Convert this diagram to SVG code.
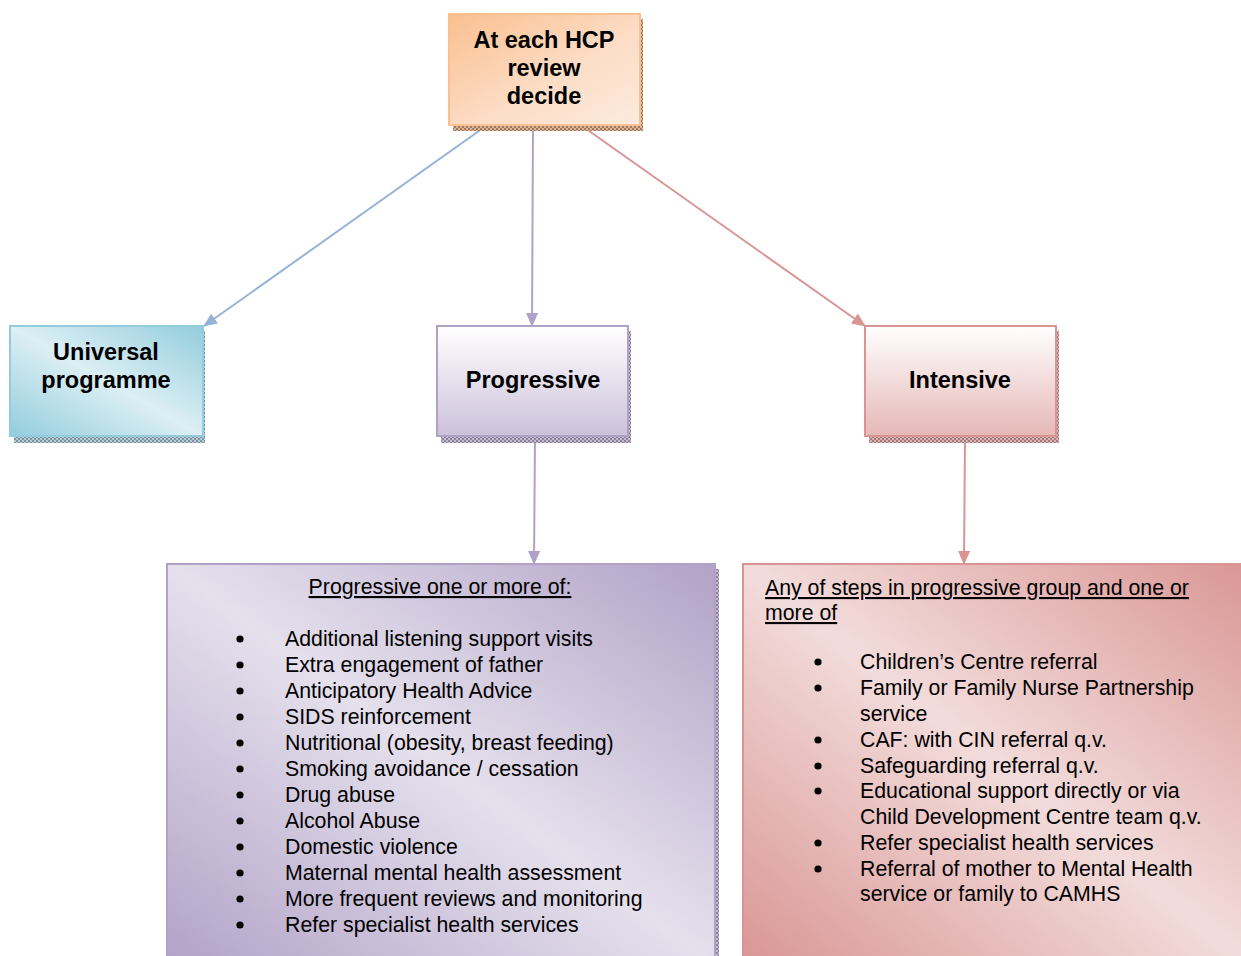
<svg xmlns="http://www.w3.org/2000/svg" width="1241" height="956" viewBox="0 0 1241 956">
  <style>
    .title { font-family: "Liberation Sans", Arial, sans-serif; font-weight: bold; font-size: 23.5px; fill: #000; text-anchor: middle; }
    .body { font-family: "Liberation Sans", Arial, sans-serif; font-size: 21.3px; fill: #000; }
    .head { text-decoration: underline; }
    .conn { fill: none; stroke-width: 2; }
  </style>
  <defs>
    <!-- diagonal gradients: dark along top-right / bottom-left corners, light along the main diagonal -->
    <linearGradient id="gOrange" x1="0" y1="0" x2="1" y2="1">
      <stop offset="0" stop-color="#fabf8f"/>
      <stop offset="0.55" stop-color="#fcdcc4"/>
      <stop offset="1" stop-color="#fdebdf"/>
    </linearGradient>
    <linearGradient id="gTeal" x1="0" y1="1" x2="1" y2="0">
      <stop offset="0" stop-color="#93cddd"/>
      <stop offset="0.5" stop-color="#dceff4"/>
      <stop offset="1" stop-color="#93cddd"/>
    </linearGradient>
    <linearGradient id="gPurpleV" x1="0" y1="0" x2="0" y2="1">
      <stop offset="0" stop-color="#ffffff"/>
      <stop offset="1" stop-color="#ccc1da"/>
    </linearGradient>
    <linearGradient id="gRedV" x1="0" y1="0" x2="0" y2="1">
      <stop offset="0" stop-color="#ffffff"/>
      <stop offset="1" stop-color="#e5b8b7"/>
    </linearGradient>
    <linearGradient id="gPurpleD" x1="0" y1="1" x2="1" y2="0">
      <stop offset="0" stop-color="#b2a2c7"/>
      <stop offset="0.5" stop-color="#e5e0ec"/>
      <stop offset="1" stop-color="#b2a2c7"/>
    </linearGradient>
    <linearGradient id="gRedD" x1="0" y1="1" x2="1" y2="0">
      <stop offset="0" stop-color="#d99694"/>
      <stop offset="0.5" stop-color="#f2dcdb"/>
      <stop offset="1" stop-color="#d99694"/>
    </linearGradient>
    <!-- hatched drop shadows -->
    <pattern id="hBrown" width="4" height="4" patternUnits="userSpaceOnUse">
      <rect width="4" height="4" fill="#d9b79c"/>
      <rect width="2" height="2" fill="#a3785a"/>
      <rect x="2" y="2" width="2" height="2" fill="#a3785a"/>
    </pattern>
    <pattern id="hBlue" width="4" height="4" patternUnits="userSpaceOnUse">
      <rect width="4" height="4" fill="#b9cad2"/>
      <rect width="2" height="2" fill="#7d97a3"/>
      <rect x="2" y="2" width="2" height="2" fill="#7d97a3"/>
    </pattern>
    <pattern id="hPurple" width="4" height="4" patternUnits="userSpaceOnUse">
      <rect width="4" height="4" fill="#c4bcd0"/>
      <rect width="2" height="2" fill="#8c8199"/>
      <rect x="2" y="2" width="2" height="2" fill="#8c8199"/>
    </pattern>
    <pattern id="hRed" width="4" height="4" patternUnits="userSpaceOnUse">
      <rect width="4" height="4" fill="#d7b5b4"/>
      <rect width="2" height="2" fill="#a67d7c"/>
      <rect x="2" y="2" width="2" height="2" fill="#a67d7c"/>
    </pattern>
    <marker id="aBlue" markerWidth="14" markerHeight="12" refX="13" refY="6" orient="auto" markerUnits="userSpaceOnUse">
      <path d="M0,0 L14,6 L0,12 Z" fill="#95b3d7"/>
    </marker>
    <marker id="aPurple" markerWidth="14" markerHeight="12" refX="13" refY="6" orient="auto" markerUnits="userSpaceOnUse">
      <path d="M0,0 L14,6 L0,12 Z" fill="#b2a1c7"/>
    </marker>
    <marker id="aRed" markerWidth="14" markerHeight="12" refX="13" refY="6" orient="auto" markerUnits="userSpaceOnUse">
      <path d="M0,0 L14,6 L0,12 Z" fill="#d99594"/>
    </marker>
  </defs>

  <rect width="1241" height="956" fill="#ffffff"/>

  <!-- connectors -->
  <g id="connectors">
    <line class="conn" x1="486" y1="126" x2="204" y2="326" stroke="#95b3d7" marker-end="url(#aBlue)"/>
    <line class="conn" x1="533" y1="126" x2="532" y2="326" stroke="#b2a1c7" marker-end="url(#aPurple)"/>
    <line class="conn" x1="582" y1="126" x2="865" y2="326" stroke="#d99594" marker-end="url(#aRed)"/>
    <line class="conn" x1="535" y1="437" x2="534" y2="564" stroke="#b2a1c7" marker-end="url(#aPurple)"/>
    <line class="conn" x1="965" y1="437" x2="964" y2="564" stroke="#d99594" marker-end="url(#aRed)"/>
  </g>

  <!-- decision node -->
  <g id="decide">
    <rect x="453" y="19" width="190" height="112" fill="url(#hBrown)"/>
    <rect x="449" y="14" width="191" height="111" fill="url(#gOrange)" stroke="#fac08f" stroke-width="2"/>
    <text class="title" x="544" y="48">At each HCP</text>
    <text class="title" x="544" y="76">review</text>
    <text class="title" x="544" y="104">decide</text>
  </g>

  <!-- universal programme -->
  <g id="universal">
    <rect x="14" y="331" width="191" height="112" fill="url(#hBlue)"/>
    <rect x="10" y="326" width="193" height="110" fill="url(#gTeal)" stroke="#93cddd" stroke-width="2"/>
    <text class="title" x="106" y="360">Universal</text>
    <text class="title" x="106" y="388">programme</text>
  </g>

  <!-- progressive -->
  <g id="progressive">
    <rect x="441" y="331" width="190" height="112" fill="url(#hPurple)"/>
    <rect x="437" y="326" width="191" height="110" fill="url(#gPurpleV)" stroke="#b2a1c7" stroke-width="2"/>
    <text class="title" x="533" y="388">Progressive</text>
  </g>

  <!-- intensive -->
  <g id="intensive">
    <rect x="869" y="331" width="190" height="112" fill="url(#hRed)"/>
    <rect x="865" y="326" width="191" height="110" fill="url(#gRedV)" stroke="#d99594" stroke-width="2"/>
    <text class="title" x="960" y="388">Intensive</text>
  </g>

  <!-- progressive actions -->
  <g id="progressive-list">
    <rect x="170" y="569" width="549" height="400" fill="url(#hPurple)"/>
    <rect x="167" y="564" width="548" height="400" fill="url(#gPurpleD)" stroke="#b2a1c7" stroke-width="2"/>
    <text class="body head" x="440" y="594" text-anchor="middle">Progressive one or more of:</text>
    <g fill="#000">
      <circle cx="240" cy="639" r="3.6"/>
      <circle cx="240" cy="665" r="3.6"/>
      <circle cx="240" cy="691" r="3.6"/>
      <circle cx="240" cy="717" r="3.6"/>
      <circle cx="240" cy="743" r="3.6"/>
      <circle cx="240" cy="769" r="3.6"/>
      <circle cx="240" cy="795" r="3.6"/>
      <circle cx="240" cy="821" r="3.6"/>
      <circle cx="240" cy="847" r="3.6"/>
      <circle cx="240" cy="873" r="3.6"/>
      <circle cx="240" cy="899" r="3.6"/>
      <circle cx="240" cy="925" r="3.6"/>
    </g>
    <text class="body" x="285" y="646">Additional listening support visits</text>
    <text class="body" x="285" y="672">Extra engagement of father</text>
    <text class="body" x="285" y="698">Anticipatory Health Advice</text>
    <text class="body" x="285" y="724">SIDS reinforcement</text>
    <text class="body" x="285" y="750">Nutritional (obesity, breast feeding)</text>
    <text class="body" x="285" y="776">Smoking avoidance / cessation</text>
    <text class="body" x="285" y="802">Drug abuse</text>
    <text class="body" x="285" y="828">Alcohol Abuse</text>
    <text class="body" x="285" y="854">Domestic violence</text>
    <text class="body" x="285" y="880">Maternal mental health assessment</text>
    <text class="body" x="285" y="906">More frequent reviews and monitoring</text>
    <text class="body" x="285" y="932">Refer specialist health services</text>
  </g>

  <!-- intensive actions -->
  <g id="intensive-list">
    <rect x="743" y="564" width="510" height="400" fill="url(#gRedD)" stroke="#d99594" stroke-width="2"/>
    <text class="body head" x="765" y="595">Any of steps in progressive group and one or</text>
    <text class="body head" x="765" y="620">more of</text>
    <g fill="#000">
      <circle cx="818" cy="662" r="3.6"/>
      <circle cx="818" cy="688" r="3.6"/>
      <circle cx="818" cy="740" r="3.6"/>
      <circle cx="818" cy="766" r="3.6"/>
      <circle cx="818" cy="791" r="3.6"/>
      <circle cx="818" cy="843" r="3.6"/>
      <circle cx="818" cy="869" r="3.6"/>
    </g>
    <text class="body" x="860" y="669">Children’s Centre referral</text>
    <text class="body" x="860" y="695">Family or Family Nurse Partnership</text>
    <text class="body" x="860" y="721">service</text>
    <text class="body" x="860" y="747">CAF: with CIN referral q.v.</text>
    <text class="body" x="860" y="773">Safeguarding referral q.v.</text>
    <text class="body" x="860" y="798">Educational support directly or via</text>
    <text class="body" x="860" y="824">Child Development Centre team q.v.</text>
    <text class="body" x="860" y="850">Refer specialist health services</text>
    <text class="body" x="860" y="876">Referral of mother to Mental Health</text>
    <text class="body" x="860" y="901">service or family to CAMHS</text>
  </g>
</svg>
